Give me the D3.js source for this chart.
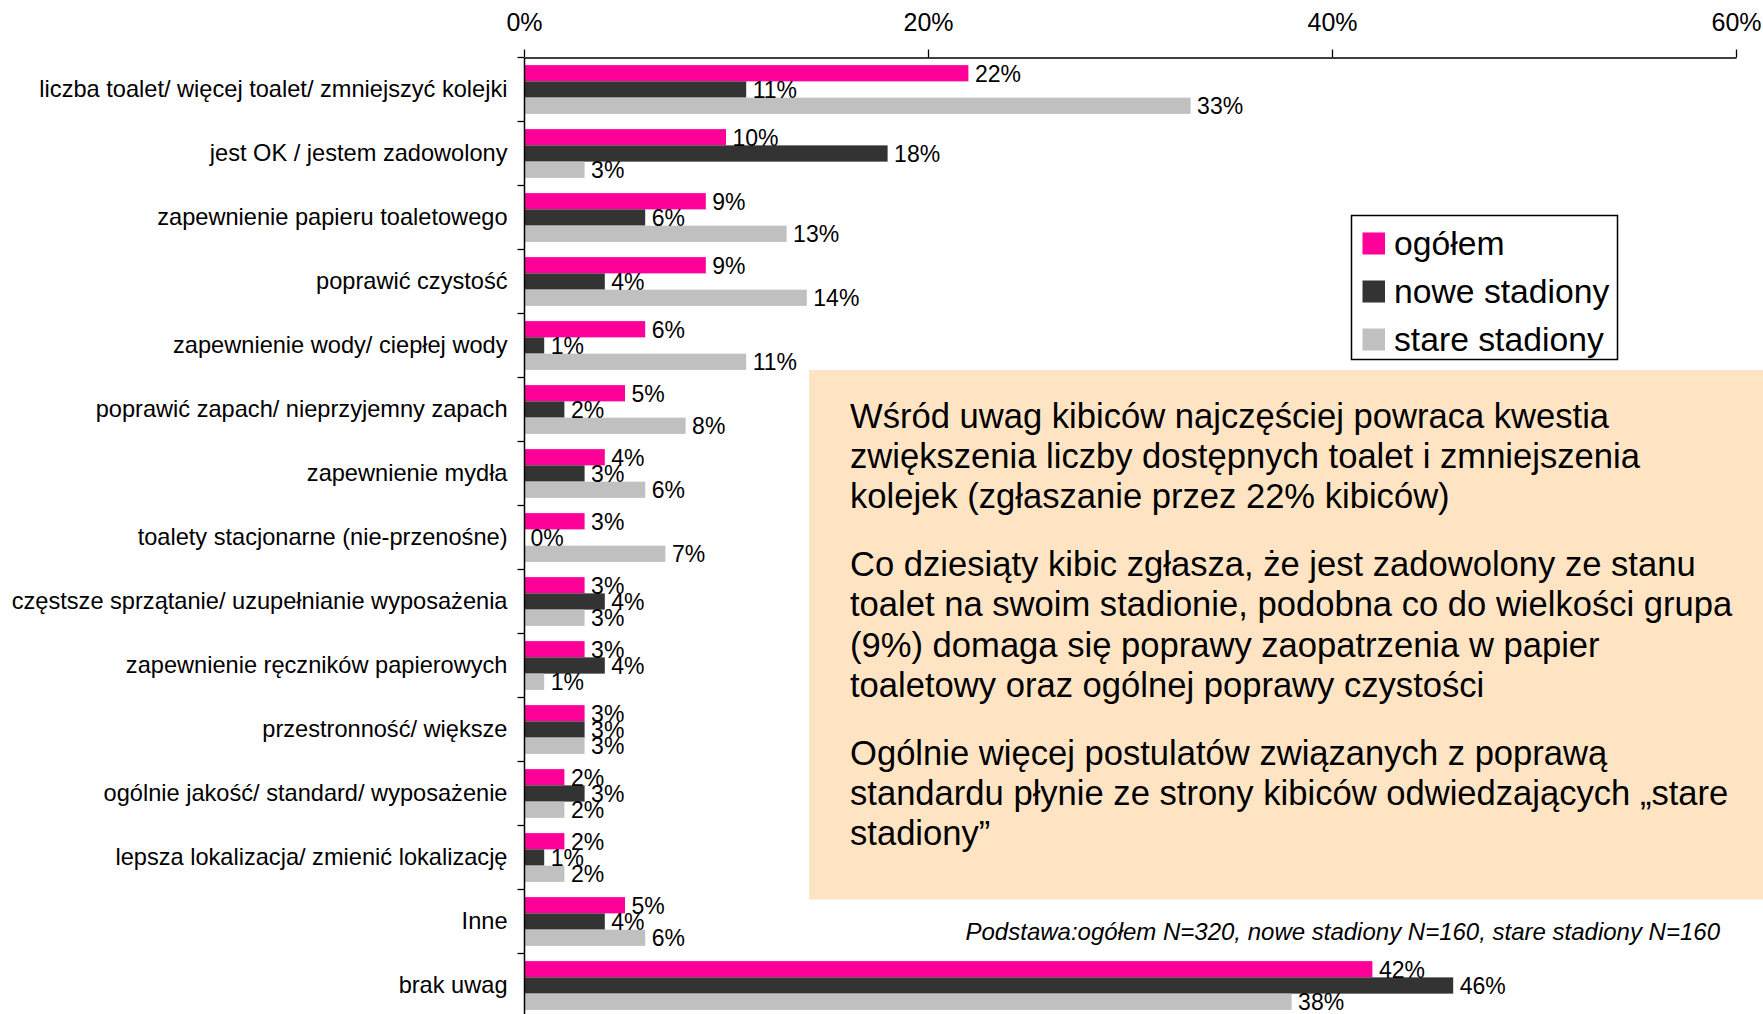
<!DOCTYPE html>
<html>
<head>
<meta charset="utf-8">
<script src="https://cdn.jsdelivr.net/npm/d3@7"></script>
<style>
  body { margin: 0; background: #fff; }
  svg text { font-family: "Liberation Sans", Arial, sans-serif; fill: #000; }
</style>
</head>
<body>
<div id="chart"></div>
<script>
  var categories = [
    "liczba toalet/ więcej toalet/ zmniejszyć kolejki",
    "jest OK / jestem zadowolony",
    "zapewnienie papieru toaletowego",
    "poprawić czystość",
    "zapewnienie wody/ ciepłej wody",
    "poprawić zapach/ nieprzyjemny zapach",
    "zapewnienie mydła",
    "toalety stacjonarne (nie-przenośne)",
    "częstsze sprzątanie/ uzupełnianie wyposażenia",
    "zapewnienie ręczników papierowych",
    "przestronność/ większe",
    "ogólnie jakość/ standard/ wyposażenie",
    "lepsza lokalizacja/ zmienić lokalizację",
    "Inne",
    "brak uwag"
  ];
  var seriesNames = ["ogółem", "nowe stadiony", "stare stadiony"];
  var seriesColors = ["#ff0099", "#333333", "#c0c0c0"];
  var ogolem = [22, 10, 9, 9, 6, 5, 4, 3, 3, 3, 3, 2, 2, 5, 42];
  var noweStadiony = [11, 18, 6, 4, 1, 2, 3, 0, 4, 4, 3, 3, 1, 4, 46];
  var stareStadiony = [33, 3, 13, 14, 11, 8, 6, 7, 3, 1, 3, 2, 2, 6, 38];
  var xTicks = [0, 20, 40, 60];

  var noteParagraphs = [
    ["Wśród uwag kibiców najczęściej powraca kwestia",
     "zwiększenia liczby dostępnych toalet i zmniejszenia",
     "kolejek (zgłaszanie przez 22% kibiców)"],
    ["Co dziesiąty kibic zgłasza, że jest zadowolony ze stanu",
     "toalet na swoim stadionie, podobna co do wielkości grupa",
     "(9%) domaga się poprawy zaopatrzenia w papier",
     "toaletowy oraz ogólnej poprawy czystości"],
    ["Ogólnie więcej postulatów związanych z poprawą",
     "standardu płynie ze strony kibiców odwiedzających „stare",
     "stadiony”"]
  ];
  var baseNote = "Podstawa:ogółem N=320, nowe stadiony N=160, stare stadiony N=160";

  var width = 1763, height = 1014;

  var data = categories.map((c, i) => ({
    cat: c,
    values: [ogolem[i], noweStadiony[i], stareStadiony[i]]
  }));

  var svg = d3.select("#chart").append("svg")
    .attr("width", width)
    .attr("height", height);

  // scales
  var x = d3.scaleLinear()
    .domain([0, 60])
    .range([524, 1736]);

  var y = d3.scaleBand()
    .domain(categories)
    .range([57.5, 57.5 + 64 * categories.length])
    .paddingInner(0.2375)
    .paddingOuter(0.2375 / 2);

  var ySub = d3.scaleBand()
    .domain(d3.range(seriesNames.length))
    .range([0, y.bandwidth()]);

  // bars
  var groups = svg.selectAll("g.group")
    .data(data)
    .enter().append("g")
    .attr("class", "group")
    .attr("transform", d => "translate(0," + y(d.cat) + ")");

  groups.selectAll("rect")
    .data(d => d.values)
    .enter().append("rect")
    .attr("x", x(0))
    .attr("y", (v, j) => ySub(j))
    .attr("width", v => x(v) - x(0))
    .attr("height", ySub.bandwidth())
    .attr("fill", (v, j) => seriesColors[j]);

  groups.selectAll("text")
    .data(d => d.values)
    .enter().append("text")
    .attr("x", v => x(v) + 6.5)
    .attr("y", (v, j) => ySub(j) + ySub.bandwidth() + 0.5)
    .attr("font-size", "23px")
    .text(v => v + "%");

  // top axis
  var xAxis = d3.axisTop(x)
    .tickValues(xTicks)
    .tickSize(8)
    .tickSizeOuter(0)
    .tickPadding(18.5)
    .tickFormat(d => d + "%");

  var xAxisGroup = svg.append("g")
    .attr("transform", "translate(0," + 57.5 + ")")
    .call(xAxis);
  xAxisGroup.select(".domain").attr("stroke", "#000").attr("stroke-width", 1.5);
  xAxisGroup.selectAll(".tick line").attr("stroke", "#000").attr("stroke-width", 1.3);
  xAxisGroup.selectAll(".tick text")
    .attr("font-family", null)
    .attr("font-size", "25px");

  // left axis: labels at band centres, ticks at band boundaries
  var yAxis = d3.axisLeft(y)
    .tickSize(0)
    .tickPadding(16.5);

  var yAxisGroup = svg.append("g")
    .attr("transform", "translate(" + x(0) + ",0)")
    .call(yAxis);
  yAxisGroup.select(".domain").attr("stroke", "#000").attr("stroke-width", 1.5);
  yAxisGroup.selectAll(".tick text")
    .attr("font-family", null)
    .attr("font-size", "23.6px");

  var pad = (y.step() - y.bandwidth()) / 2;
  yAxisGroup.selectAll("line.bound")
    .data(categories)
    .enter().append("line")
    .attr("class", "bound")
    .attr("x1", -6.5)
    .attr("x2", 0)
    .attr("y1", d => y(d) - pad)
    .attr("y2", d => y(d) - pad)
    .attr("stroke", "#000")
    .attr("stroke-width", 1.3);

  // comment box
  svg.append("rect")
    .attr("x", 809)
    .attr("y", 370)
    .attr("width", width - 809)
    .attr("height", 529.5)
    .attr("fill", "#ffe4c4");

  var lineH = 40.3, paraGap = 27.5;
  var ty = 427.7;
  noteParagraphs.forEach(p => {
    p.forEach(line => {
      svg.append("text")
        .attr("x", 850)
        .attr("y", ty)
        .attr("font-size", "34.6px")
        .text(line);
      ty += lineH;
    });
    ty += paraGap;
  });

  // legend
  var legend = svg.append("g")
    .attr("transform", "translate(1351.5,215.5)");

  legend.append("rect")
    .attr("width", 266)
    .attr("height", 144)
    .attr("fill", "#fff")
    .attr("stroke", "#000")
    .attr("stroke-width", 1.5);

  var legendItems = legend.selectAll("g.item")
    .data(seriesNames)
    .enter().append("g")
    .attr("class", "item")
    .attr("transform", (d, i) => "translate(11," + (17 + i * 48) + ")");

  legendItems.append("rect")
    .attr("width", 22.5)
    .attr("height", 22)
    .attr("fill", (d, i) => seriesColors[i]);

  legendItems.append("text")
    .attr("x", 31.5)
    .attr("y", 22)
    .attr("font-size", "33.7px")
    .text(d => d);

  // base note
  svg.append("text")
    .attr("x", 1720)
    .attr("y", 940)
    .attr("text-anchor", "end")
    .attr("font-style", "italic")
    .attr("font-size", "24px")
    .text(baseNote);
</script>
</body>
</html>
